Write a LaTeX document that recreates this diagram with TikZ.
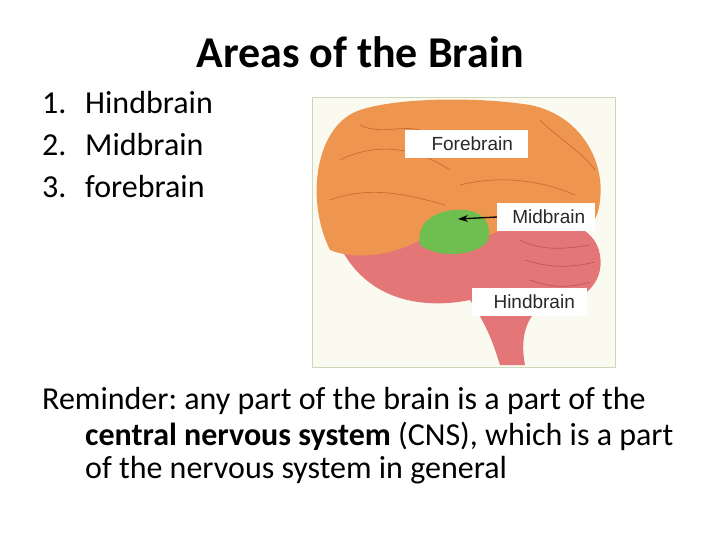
\documentclass[tikz,border=0pt]{standalone}
\usepackage{fontspec}
\usetikzlibrary{arrows.meta}
\setmainfont{Carlito}
\newfontfamily\arial{Liberation Sans}
\definecolor{frame}{RGB}{205,215,185}
\definecolor{framebg}{RGB}{250,250,240}
\definecolor{pinkc}{RGB}{228,118,120}
\definecolor{pinkd}{RGB}{190,80,90}
\definecolor{orangec}{RGB}{238,150,80}
\definecolor{oranged}{RGB}{200,110,50}
\definecolor{greenc}{RGB}{110,190,80}
\definecolor{lbltext}{RGB}{40,40,40}
\begin{document}
\frenchspacing
\begin{tikzpicture}[x=1pt,y=-1pt,
  lbl/.style={fill=white,text=lbltext,font=\arial\fontsize{19}{22}\selectfont,inner sep=0pt,anchor=west,minimum height=28pt},
  body/.style={font=\fontsize{32}{36}\selectfont,anchor=base west,inner sep=0pt}]
\useasboundingbox (0,0) rectangle (720,540);
\node[font=\bfseries\fontsize{44}{50}\selectfont] (title) at (360,52) {Areas of the Brain};
\node[body] (n1) at (42,114) {1.}; \node[body] (t1) at (85,114) {Hindbrain};
\node[body] (n2) at (42,156) {2.}; \node[body] (t2) at (85,156) {Midbrain};
\node[body] (n3) at (42,197) {3.}; \node[body] (t3) at (85,197) {forebrain};
\draw[draw=frame,fill=framebg] (312,97) rectangle (615,367);
\fill[pinkc] (335,235) .. controls (360,300) and (420,310) .. (470,300) .. controls (490,330) and (495,350) .. (500,365) -- (525,365) .. controls (520,340) and (525,315) .. (545,305) .. controls (580,305) and (605,285) .. (600,255) .. controls (595,225) and (560,215) .. (520,225) .. controls (470,230) and (400,235) .. (335,235) -- cycle;
\draw[pinkd,line width=0.6pt] (520,240) .. controls (540,250) and (560,250) .. (590,245) (525,260) .. controls (550,268) and (570,268) .. (595,262) (530,280) .. controls (550,288) and (570,288) .. (590,282);
\fill[orangec] (330,250) .. controls (305,200) and (315,125) .. (360,110) .. controls (400,97) and (480,97) .. (530,105) .. controls (580,115) and (605,160) .. (600,200) .. controls (598,225) and (585,235) .. (560,230) .. controls (530,225) and (510,225) .. (490,235) .. controls (470,225) and (440,222) .. (420,240) .. controls (400,252) and (360,262) .. (330,250) -- cycle;
\draw[oranged,line width=0.7pt] (340,160) .. controls (380,140) and (420,150) .. (450,170) (330,200) .. controls (370,185) and (410,195) .. (445,205) (360,125) .. controls (380,135) and (400,125) .. (420,130) (540,120) .. controls (560,140) and (580,150) .. (595,170) (460,185) .. controls (500,175) and (540,180) .. (575,195);
\fill[greenc] (420,245) .. controls (415,220) and (440,208) .. (465,210) .. controls (485,212) and (492,225) .. (488,240) .. controls (480,255) and (440,260) .. (420,245) -- cycle;
\node[lbl,minimum width=123pt] (fb) at (405,144) {\hspace{11pt}Forebrain\hspace{31pt}};
\node[lbl,minimum width=98pt] (mb) at (497,217) {\hspace{5pt}Midbrain\hspace{18pt}};
\node[lbl,minimum width=115pt] (hb) at (472,302) {\hspace{9pt}Hindbrain\hspace{20pt}};
\coordinate (mt) at (458,219);
\draw[-{Stealth[length=10pt,width=7pt]},line width=1.3pt] (mb.west) -- (mt);
\node[body] (r1) at (42,409) {Reminder: any part of the brain is a part of the};
\node[body] (r2) at (85,445) {\textbf{central nervous system} (CNS), which is a part};
\node[body] (r3) at (85,478) {of the nervous system in general};
\end{tikzpicture}
\end{document}
